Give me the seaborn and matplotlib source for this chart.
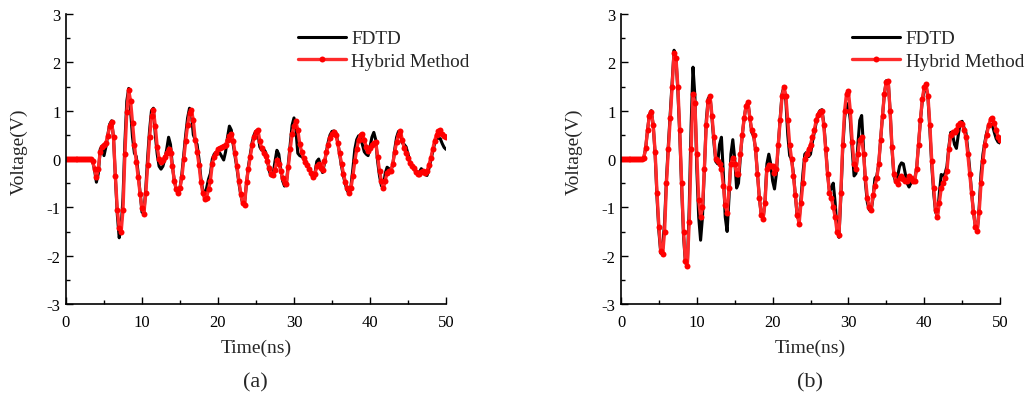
import numpy as np
import matplotlib
matplotlib.use("Agg")
import matplotlib.pyplot as plt
import seaborn as sns
from matplotlib.ticker import MultipleLocator

# sampling grid of the digitised waveforms (ns)
time_ns = np.arange(201) * 0.25

# ---------------- panel (a) ----------------
fdtd_a = [
    0, 0, 0, 0, 0, 0, 0, 0, 0, 0, 0, 0, 0, 0, -0.05, -0.22, -0.48, -0.3, 0.2, 0.27,
    0.07, 0.25, 0.5, 0.72, 0.79, 0.45, -0.4, -1.15, -1.63, -1.42, -0.8, 0.35, 1.2, 1.46, 1.0, 0.45, 0.12, 0.05, -0.3, -0.7,
    -1.1, -1.12, -0.6, 0.05, 0.6, 1.0, 1.05, 0.5, 0.1, -0.15, -0.21, -0.15, 0.0, 0.2, 0.45, 0.3, -0.15, -0.45, -0.62, -0.72,
    -0.6, -0.3, 0.1, 0.5, 0.85, 1.05, 0.95, 0.5, 0.4, 0.3, 0.0, -0.4, -0.65, -0.72, -0.6, -0.42, -0.3, 0.0, 0.1, 0.14,
    0.14, 0.12, 0.05, -0.02, 0.15, 0.45, 0.68, 0.6, 0.3, 0.05, -0.2, -0.5, -0.75, -0.92, -0.9, -0.5, -0.15, 0.1, 0.35, 0.5,
    0.58, 0.55, 0.25, 0.18, 0.2, 0.15, -0.05, -0.25, -0.35, -0.32, -0.05, 0.18, 0.1, -0.2, -0.45, -0.56, -0.5, -0.1, 0.3, 0.7,
    0.85, 0.6, 0.12, 0.07, 0.05, 0.02, -0.05, -0.12, -0.2, -0.3, -0.4, -0.3, -0.05, 0.0, -0.15, -0.28, -0.1, 0.15, 0.35, 0.5,
    0.57, 0.58, 0.55, 0.35, 0.1, -0.15, -0.35, -0.52, -0.65, -0.72, -0.55, -0.2, 0.2, 0.4, 0.48, 0.45, 0.3, 0.15, 0.1, 0.07,
    0.25, 0.45, 0.55, 0.4, -0.05, -0.35, -0.55, -0.6, -0.3, -0.17, -0.2, -0.24, -0.12, 0.2, 0.45, 0.57, 0.55, 0.33, 0.3, 0.25,
    0.1, -0.05, -0.15, -0.2, -0.25, -0.28, -0.27, -0.2, -0.25, -0.32, -0.34, -0.2, -0.02, 0.15, 0.32, 0.42, 0.43, 0.42, 0.32, 0.24,
    0.2,
]
hybrid_a = [
    0, 0, 0, 0, 0, 0, 0, 0, 0, 0, 0, 0, 0, -0.01, -0.05, -0.2, -0.38, -0.2, 0.15, 0.25,
    0.28, 0.34, 0.48, 0.68, 0.77, 0.45, -0.35, -1.05, -1.42, -1.52, -1.05, 0.1, 0.98, 1.42, 1.2, 0.75, 0.3, -0.06, -0.38, -0.72,
    -1.02, -1.13, -0.7, -0.12, 0.45, 0.88, 1.02, 0.68, 0.25, 0.0, -0.06, -0.02, 0.05, 0.12, 0.2, 0.12, -0.15, -0.45, -0.63, -0.71,
    -0.6, -0.38, 0.0, 0.38, 0.7, 0.95, 1.02, 0.8, 0.4, 0.15, -0.12, -0.48, -0.7, -0.83, -0.8, -0.62, -0.45, -0.1, 0.05, 0.13,
    0.2, 0.23, 0.24, 0.27, 0.3, 0.4, 0.47, 0.52, 0.38, 0.12, -0.15, -0.45, -0.72, -0.92, -0.95, -0.48, -0.2, 0.05, 0.28, 0.45,
    0.55, 0.6, 0.38, 0.22, 0.13, 0.06, -0.05, -0.18, -0.3, -0.34, -0.22, -0.02, -0.1, -0.24, -0.4, -0.5, -0.52, -0.16, 0.2, 0.52,
    0.68, 0.78, 0.6, 0.32, 0.15, 0.03, -0.07, -0.13, -0.2, -0.28, -0.38, -0.32, -0.15, -0.1, -0.18, -0.23, -0.05, 0.14, 0.3, 0.43,
    0.52, 0.55, 0.5, 0.33, 0.12, -0.1, -0.3, -0.47, -0.6, -0.7, -0.6, -0.35, -0.05, 0.2, 0.4, 0.5, 0.52, 0.4, 0.25, 0.17,
    0.22, 0.29, 0.34, 0.36, 0.05, -0.25, -0.45, -0.6, -0.45, -0.28, -0.24, -0.24, -0.1, 0.15, 0.35, 0.5, 0.58, 0.4, 0.22, 0.12,
    0.02, -0.08, -0.14, -0.19, -0.26, -0.3, -0.3, -0.27, -0.25, -0.28, -0.25, -0.12, 0.02, 0.2, 0.38, 0.5, 0.57, 0.59, 0.52, 0.48,
    0.45,
]

# ---------------- panel (b) ----------------
fdtd_b = [
    0, 0, 0, 0, 0, 0, 0, 0, 0, 0, 0, 0, 0.02, 0.22, 0.6, 0.92, 1.0, 0.7, 0.1, -0.8,
    -1.5, -1.95, -1.85, -1.3, -0.4, 0.3, 0.95, 1.6, 2.25, 2.1, 1.4, 0.5, -0.6, -1.6, -2.15, -2.2, -1.0, 0.7, 1.9, 1.3,
    -0.2, -1.2, -1.68, -1.2, -0.2, 0.8, 1.25, 1.3, 0.85, 0.35, -0.05, -0.1, 0.3, 0.45, -0.3, -1.2, -1.5, -0.8, 0.1, 0.4,
    0.0, -0.6, -0.5, 0.05, 0.5, 0.85, 1.1, 1.17, 0.85, 0.55, 0.48, 0.2, -0.3, -0.8, -1.15, -1.24, -0.85, -0.1, 0.1, -0.1,
    -0.45, -0.62, -0.3, 0.3, 0.85, 1.35, 1.5, 1.2, 0.5, 0.07, 0.0, -0.3, -0.75, -1.2, -1.25, -0.8, -0.3, 0.1, 0.14, 0.05,
    0.1, 0.35, 0.55, 0.75, 0.92, 1.0, 1.02, 0.75, 0.25, -0.3, -0.68, -0.6, -0.5, -0.9, -1.45, -1.62, -0.8, 0.2, 0.85, 1.12,
    1.15, 0.8, 0.2, -0.35, -0.3, 0.3, 0.8, 0.9, 0.2, -0.5, -0.9, -1.05, -1.07, -0.8, -0.4, -0.35, -0.1, 0.4, 0.9, 1.35,
    1.62, 1.62, 1.0, 0.2, -0.35, -0.48, -0.35, -0.15, -0.08, -0.1, -0.3, -0.5, -0.58, -0.5, -0.45, -0.4, -0.2, 0.3, 0.8, 1.2,
    1.45, 1.5, 1.25, 0.6, -0.15, -0.7, -1.1, -1.18, -0.7, -0.32, -0.35, -0.3, -0.15, 0.25, 0.55, 0.5, 0.3, 0.22, 0.5, 0.75,
    0.78, 0.65, 0.55, 0.2, -0.2, -0.7, -1.1, -1.4, -1.5, -1.0, -0.3, 0.1, 0.35, 0.55, 0.7, 0.72, 0.7, 0.55, 0.42, 0.35,
    0.33,
]
hybrid_b = [
    0, 0, 0, 0, 0, 0, 0, 0, 0, 0, 0, 0, 0.02, 0.22, 0.6, 0.9, 0.98, 0.7, 0.15, -0.7,
    -1.4, -1.9, -1.97, -1.5, -0.5, 0.2, 0.85, 1.5, 2.2, 2.1, 1.5, 0.6, -0.5, -1.5, -2.1, -2.22, -1.3, 0.2, 1.35, 1.15,
    0.1, -0.85, -1.2, -1.0, -0.2, 0.7, 1.2, 1.3, 0.9, 0.45, 0.0, -0.05, -0.1, -0.2, -0.55, -0.95, -1.12, -0.6, -0.1, 0.03,
    -0.1, -0.3, -0.3, 0.1, 0.5, 0.85, 1.1, 1.17, 0.85, 0.6, 0.5, 0.2, -0.3, -0.8, -1.15, -1.24, -0.9, -0.2, -0.12, -0.14,
    -0.15, -0.28, -0.2, 0.3, 0.8, 1.3, 1.5, 1.3, 0.8, 0.3, 0.0, -0.35, -0.75, -1.15, -1.34, -0.9, -0.5, 0.0, 0.1, 0.2,
    0.3, 0.45, 0.6, 0.8, 0.92, 0.98, 1.0, 0.7, 0.2, -0.3, -0.7, -0.8, -1.0, -1.2, -1.5, -1.58, -0.7, 0.3, 1.0, 1.35,
    1.4, 1.0, 0.35, -0.1, -0.2, 0.1, 0.4, 0.45, 0.1, -0.4, -0.8, -1.0, -1.05, -0.75, -0.55, -0.4, -0.1, 0.4, 0.9, 1.35,
    1.6, 1.62, 1.0, 0.25, -0.3, -0.45, -0.52, -0.4, -0.35, -0.42, -0.45, -0.45, -0.35, -0.4, -0.45, -0.45, -0.2, 0.3, 0.8, 1.25,
    1.48, 1.55, 1.3, 0.7, -0.05, -0.6, -1.05, -1.2, -0.9, -0.6, -0.5, -0.4, -0.25, 0.2, 0.5, 0.55, 0.55, 0.6, 0.7, 0.75,
    0.72, 0.6, 0.45, 0.1, -0.3, -0.7, -1.1, -1.4, -1.48, -1.1, -0.5, -0.05, 0.3, 0.5, 0.7, 0.82, 0.85, 0.75, 0.6, 0.45,
    0.4,
]

panel_labels = ["(a)", "(b)"]
series_names = ["FDTD", "Hybrid Method"]
x_ticks = [0, 10, 20, 30, 40, 50]
y_ticks = [-3, -2, -1, 0, 1, 2, 3]

sns.set_style("ticks")
plt.rcParams["font.family"] = ["Liberation Serif", "DejaVu Serif"]
plt.rcParams["axes.unicode_minus"] = False

W, H = 1030, 402
fig = plt.figure(figsize=(W / 100, H / 100), dpi=100)

panels = [(fdtd_a, hybrid_a, 66, 380, 255), (fdtd_b, hybrid_b, 621, 379, 810)]
for (fd, hy, left, width, lab_x), plab in zip(panels, panel_labels):
    ax = fig.add_axes([left / W, (H - 305) / H, width / W, 290 / H])
    sns.lineplot(x=time_ns, y=fd, ax=ax, color="black", lw=2.2,
                 label=series_names[0], estimator=None, sort=False)
    sns.lineplot(x=time_ns, y=hy, ax=ax, color="#ff2a2a", lw=2.4,
                 marker="o", markersize=4.3, markerfacecolor="red",
                 markeredgecolor="red", markeredgewidth=0,
                 label=series_names[1], estimator=None, sort=False)
    ax.set_xlim(0, 50)
    ax.set_ylim(-3, 3)
    ax.set_xticks(x_ticks)
    ax.set_yticks(y_ticks)
    ax.xaxis.set_minor_locator(MultipleLocator(5))
    ax.yaxis.set_minor_locator(MultipleLocator(0.5))
    ax.tick_params(which="both", direction="in", width=1.0, colors="black",
                   labelsize=12, top=False, right=False)
    ax.tick_params(which="major", length=5)
    ax.tick_params(which="minor", length=3)
    ax.tick_params(axis="x", pad=7)
    ax.tick_params(axis="y", pad=4)
    for s in ["top", "right"]:
        ax.spines[s].set_visible(False)
    for s in ["left", "bottom"]:
        ax.spines[s].set_linewidth(1.2)
        ax.spines[s].set_color("black")
    ax.set_xlabel("Time(ns)", fontsize=14)
    ax.set_ylabel("Voltage(V)", fontsize=14)
    ax.xaxis.set_label_coords(0.5, -0.12)
    ax.yaxis.set_label_coords(-0.1, 0.53)
    leg = ax.legend(loc="upper left", bbox_to_anchor=(0.61, 0.945),
                    frameon=False, fontsize=13.8, handlelength=2.5,
                    handletextpad=0.3, labelspacing=0.28, borderpad=0,
                    borderaxespad=0)
    fig.text(lab_x / W, 1 - 383 / H, plab, ha="center", va="center", fontsize=16)

fig.savefig("out.png", dpi=100)
